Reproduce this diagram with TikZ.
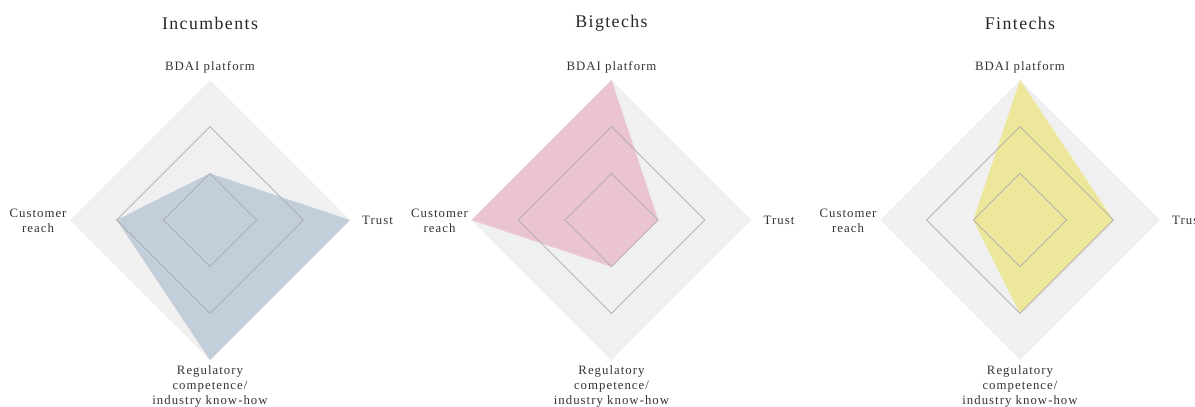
\documentclass[tikz,border=0pt]{standalone}
\usepackage{fontspec}
\setmainfont[LetterSpace=8]{Liberation Serif}
\begin{document}
\begin{tikzpicture}[x=1bp,y=-1bp,
  lbl/.style={inner sep=0pt, text=black!80, font=\fontsize{12.8bp}{15bp}\selectfont, align=center},
  ttl/.style={inner sep=0pt, text=black!85, font=\fontsize{17.8bp}{20bp}\selectfont},
  bgdia/.style={fill=black!6, draw=none},
  ring/.style={draw=black!33, line width=0.7bp},
  incfill/.style={fill=bluefill, draw=none},
  bigfill/.style={fill=pinkfill, draw=none},
  finfill/.style={fill=yellowfill, draw=none}]
\definecolor{bluefill}{HTML}{C2CEDA}
\definecolor{pinkfill}{HTML}{EAC4D0}
\definecolor{yellowfill}{HTML}{EDE79C}
\useasboundingbox (0,0) rectangle (1195,406);
\def\RR{140}
\foreach \ccx/\nm/\ttxt/\vb/\vt/\vr/\vc/\sty in {
  210/inc/Incumbents/1/3/3/2/incfill,
  611.5/big/Bigtechs/3/1/1/3/bigfill,
  1020/fin/Fintechs/3/2/2/1/finfill}{
  \begin{scope}[shift={(\ccx,220)}]
    \coordinate (\nm-c) at (0,0);
    \fill[bgdia] (0,-\RR) -- (\RR,0) -- (0,\RR) -- (-\RR,0) -- cycle;
    \fill[\sty] (0,-\vb*\RR/3) -- (\vt*\RR/3,0) -- (0,\vr*\RR/3) -- (-\vc*\RR/3,0) -- cycle;
    \draw[ring] (0,-\RR/3) -- (\RR/3,0) -- (0,\RR/3) -- (-\RR/3,0) -- cycle;
    \draw[ring] (0,-2*\RR/3) -- (2*\RR/3,0) -- (0,2*\RR/3) -- (-2*\RR/3,0) -- cycle;
    \node[ttl] (\nm-title) at (0,-197) {\ttxt};
    \node[lbl] (\nm-bdai) at (0,-153) {BDAI platform};
    \node[lbl, anchor=west] (\nm-trust) at (152,0) {Trust};
    \node[lbl] (\nm-cust) at (-172,1) {Customer\\reach};
    \node[lbl, anchor=north] (\nm-reg) at (0,145) {Regulatory\\competence/\\industry know-how};
  \end{scope}
}
\end{tikzpicture}
\end{document}
